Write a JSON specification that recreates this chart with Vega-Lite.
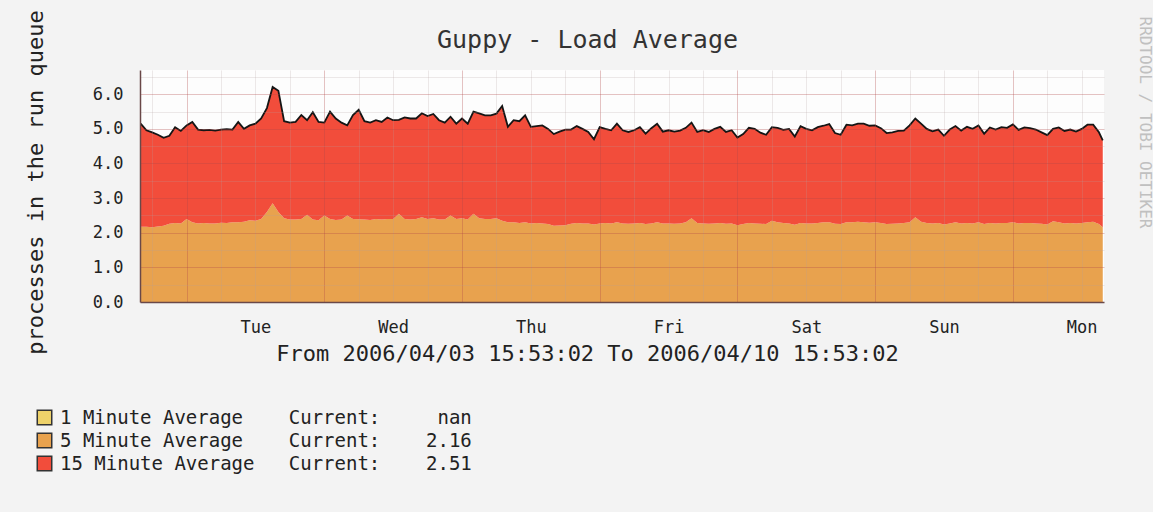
{
  "$schema": "https://vega.github.io/schema/vega-lite/v6.json",
  "width": 964,
  "height": 232,
  "autosize": {"type": "none"},
  "padding": {"left": 140, "top": 70, "right": 49, "bottom": 210},
  "background": "#f3f3f3",
  "config": {
    "view": {"fill": "#fdfdfd", "stroke": null},
    "font": "DejaVu Sans Mono",
    "axis": {"labelFont": "DejaVu Sans Mono", "titleFont": "DejaVu Sans Mono", "labelColor": "#222222", "titleColor": "#222222", "titleFontWeight": "normal"},
    "legend": {"labelFont": "DejaVu Sans Mono"}
  },
  "data": {
    "values": [
      {"t":"2006-04-03T16:00","l5":2.17,"l15":2.98},
      {"t":"2006-04-03T17:00","l5":2.17,"l15":2.79},
      {"t":"2006-04-03T18:00","l5":2.16,"l15":2.74},
      {"t":"2006-04-03T19:00","l5":2.18,"l15":2.65},
      {"t":"2006-04-03T20:00","l5":2.20,"l15":2.54},
      {"t":"2006-04-03T21:00","l5":2.26,"l15":2.54},
      {"t":"2006-04-03T22:00","l5":2.28,"l15":2.77},
      {"t":"2006-04-03T23:00","l5":2.27,"l15":2.67},
      {"t":"2006-04-04T00:00","l5":2.40,"l15":2.70},
      {"t":"2006-04-04T01:00","l5":2.30,"l15":2.90},
      {"t":"2006-04-04T02:00","l5":2.27,"l15":2.71},
      {"t":"2006-04-04T03:00","l5":2.28,"l15":2.68},
      {"t":"2006-04-04T04:00","l5":2.27,"l15":2.70},
      {"t":"2006-04-04T05:00","l5":2.27,"l15":2.68},
      {"t":"2006-04-04T06:00","l5":2.29,"l15":2.69},
      {"t":"2006-04-04T07:00","l5":2.28,"l15":2.71},
      {"t":"2006-04-04T08:00","l5":2.30,"l15":2.68},
      {"t":"2006-04-04T09:00","l5":2.30,"l15":2.90},
      {"t":"2006-04-04T10:00","l5":2.32,"l15":2.68},
      {"t":"2006-04-04T11:00","l5":2.36,"l15":2.74},
      {"t":"2006-04-04T12:00","l5":2.35,"l15":2.80},
      {"t":"2006-04-04T13:00","l5":2.40,"l15":2.90},
      {"t":"2006-04-04T14:00","l5":2.60,"l15":3.00},
      {"t":"2006-04-04T15:00","l5":2.85,"l15":3.36},
      {"t":"2006-04-04T16:00","l5":2.60,"l15":3.50},
      {"t":"2006-04-04T17:00","l5":2.42,"l15":2.80},
      {"t":"2006-04-04T18:00","l5":2.38,"l15":2.80},
      {"t":"2006-04-04T19:00","l5":2.38,"l15":2.82},
      {"t":"2006-04-04T20:00","l5":2.40,"l15":3.00},
      {"t":"2006-04-04T21:00","l5":2.52,"l15":2.73},
      {"t":"2006-04-04T22:00","l5":2.38,"l15":3.10},
      {"t":"2006-04-04T23:00","l5":2.36,"l15":2.84},
      {"t":"2006-04-05T00:00","l5":2.50,"l15":2.68},
      {"t":"2006-04-05T01:00","l5":2.40,"l15":3.10},
      {"t":"2006-04-05T02:00","l5":2.37,"l15":2.93},
      {"t":"2006-04-05T03:00","l5":2.38,"l15":2.80},
      {"t":"2006-04-05T04:00","l5":2.50,"l15":2.60},
      {"t":"2006-04-05T05:00","l5":2.40,"l15":3.00},
      {"t":"2006-04-05T06:00","l5":2.39,"l15":3.16},
      {"t":"2006-04-05T07:00","l5":2.38,"l15":2.84},
      {"t":"2006-04-05T08:00","l5":2.37,"l15":2.81},
      {"t":"2006-04-05T09:00","l5":2.40,"l15":2.85},
      {"t":"2006-04-05T10:00","l5":2.38,"l15":2.82},
      {"t":"2006-04-05T11:00","l5":2.40,"l15":2.93},
      {"t":"2006-04-05T12:00","l5":2.40,"l15":2.85},
      {"t":"2006-04-05T13:00","l5":2.55,"l15":2.71},
      {"t":"2006-04-05T14:00","l5":2.40,"l15":2.93},
      {"t":"2006-04-05T15:00","l5":2.38,"l15":2.92},
      {"t":"2006-04-05T16:00","l5":2.40,"l15":2.90},
      {"t":"2006-04-05T17:00","l5":2.45,"l15":3.00},
      {"t":"2006-04-05T18:00","l5":2.40,"l15":2.97},
      {"t":"2006-04-05T19:00","l5":2.42,"l15":3.01},
      {"t":"2006-04-05T20:00","l5":2.38,"l15":2.87},
      {"t":"2006-04-05T21:00","l5":2.38,"l15":2.80},
      {"t":"2006-04-05T22:00","l5":2.50,"l15":2.85},
      {"t":"2006-04-05T23:00","l5":2.40,"l15":2.75},
      {"t":"2006-04-06T00:00","l5":2.42,"l15":2.88},
      {"t":"2006-04-06T01:00","l5":2.38,"l15":2.77},
      {"t":"2006-04-06T02:00","l5":2.55,"l15":2.95},
      {"t":"2006-04-06T03:00","l5":2.42,"l15":3.03},
      {"t":"2006-04-06T04:00","l5":2.40,"l15":2.99},
      {"t":"2006-04-06T05:00","l5":2.40,"l15":2.99},
      {"t":"2006-04-06T06:00","l5":2.42,"l15":3.02},
      {"t":"2006-04-06T07:00","l5":2.35,"l15":3.31},
      {"t":"2006-04-06T08:00","l5":2.30,"l15":2.76},
      {"t":"2006-04-06T09:00","l5":2.30,"l15":2.95},
      {"t":"2006-04-06T10:00","l5":2.28,"l15":2.94},
      {"t":"2006-04-06T11:00","l5":2.30,"l15":3.09},
      {"t":"2006-04-06T12:00","l5":2.27,"l15":2.79},
      {"t":"2006-04-06T13:00","l5":2.28,"l15":2.80},
      {"t":"2006-04-06T14:00","l5":2.27,"l15":2.83},
      {"t":"2006-04-06T15:00","l5":2.25,"l15":2.75},
      {"t":"2006-04-06T16:00","l5":2.20,"l15":2.65},
      {"t":"2006-04-06T17:00","l5":2.21,"l15":2.71},
      {"t":"2006-04-06T18:00","l5":2.22,"l15":2.76},
      {"t":"2006-04-06T19:00","l5":2.26,"l15":2.72},
      {"t":"2006-04-06T20:00","l5":2.28,"l15":2.80},
      {"t":"2006-04-06T21:00","l5":2.27,"l15":2.73},
      {"t":"2006-04-06T22:00","l5":2.27,"l15":2.64},
      {"t":"2006-04-06T23:00","l5":2.24,"l15":2.46},
      {"t":"2006-04-07T00:00","l5":2.27,"l15":2.78},
      {"t":"2006-04-07T01:00","l5":2.28,"l15":2.72},
      {"t":"2006-04-07T02:00","l5":2.27,"l15":2.69},
      {"t":"2006-04-07T03:00","l5":2.30,"l15":2.85},
      {"t":"2006-04-07T04:00","l5":2.27,"l15":2.69},
      {"t":"2006-04-07T05:00","l5":2.26,"l15":2.65},
      {"t":"2006-04-07T06:00","l5":2.27,"l15":2.69},
      {"t":"2006-04-07T07:00","l5":2.28,"l15":2.77},
      {"t":"2006-04-07T08:00","l5":2.25,"l15":2.61},
      {"t":"2006-04-07T09:00","l5":2.27,"l15":2.75},
      {"t":"2006-04-07T10:00","l5":2.30,"l15":2.85},
      {"t":"2006-04-07T11:00","l5":2.27,"l15":2.65},
      {"t":"2006-04-07T12:00","l5":2.27,"l15":2.69},
      {"t":"2006-04-07T13:00","l5":2.26,"l15":2.66},
      {"t":"2006-04-07T14:00","l5":2.27,"l15":2.68},
      {"t":"2006-04-07T15:00","l5":2.30,"l15":2.73},
      {"t":"2006-04-07T16:00","l5":2.42,"l15":2.76},
      {"t":"2006-04-07T17:00","l5":2.28,"l15":2.63},
      {"t":"2006-04-07T18:00","l5":2.27,"l15":2.69},
      {"t":"2006-04-07T19:00","l5":2.26,"l15":2.65},
      {"t":"2006-04-07T20:00","l5":2.27,"l15":2.73},
      {"t":"2006-04-07T21:00","l5":2.28,"l15":2.78},
      {"t":"2006-04-07T22:00","l5":2.26,"l15":2.65},
      {"t":"2006-04-07T23:00","l5":2.27,"l15":2.69},
      {"t":"2006-04-08T00:00","l5":2.22,"l15":2.53},
      {"t":"2006-04-08T01:00","l5":2.25,"l15":2.60},
      {"t":"2006-04-08T02:00","l5":2.28,"l15":2.75},
      {"t":"2006-04-08T03:00","l5":2.27,"l15":2.73},
      {"t":"2006-04-08T04:00","l5":2.26,"l15":2.63},
      {"t":"2006-04-08T05:00","l5":2.25,"l15":2.58},
      {"t":"2006-04-08T06:00","l5":2.35,"l15":2.70},
      {"t":"2006-04-08T07:00","l5":2.30,"l15":2.73},
      {"t":"2006-04-08T08:00","l5":2.28,"l15":2.69},
      {"t":"2006-04-08T09:00","l5":2.27,"l15":2.73},
      {"t":"2006-04-08T10:00","l5":2.23,"l15":2.55},
      {"t":"2006-04-08T11:00","l5":2.28,"l15":2.80},
      {"t":"2006-04-08T12:00","l5":2.27,"l15":2.73},
      {"t":"2006-04-08T13:00","l5":2.27,"l15":2.69},
      {"t":"2006-04-08T14:00","l5":2.28,"l15":2.77},
      {"t":"2006-04-08T15:00","l5":2.30,"l15":2.79},
      {"t":"2006-04-08T16:00","l5":2.30,"l15":2.84},
      {"t":"2006-04-08T17:00","l5":2.26,"l15":2.62},
      {"t":"2006-04-08T18:00","l5":2.25,"l15":2.58},
      {"t":"2006-04-08T19:00","l5":2.30,"l15":2.82},
      {"t":"2006-04-08T20:00","l5":2.30,"l15":2.80},
      {"t":"2006-04-08T21:00","l5":2.32,"l15":2.83},
      {"t":"2006-04-08T22:00","l5":2.30,"l15":2.85},
      {"t":"2006-04-08T23:00","l5":2.29,"l15":2.80},
      {"t":"2006-04-09T00:00","l5":2.30,"l15":2.80},
      {"t":"2006-04-09T01:00","l5":2.28,"l15":2.74},
      {"t":"2006-04-09T02:00","l5":2.25,"l15":2.63},
      {"t":"2006-04-09T03:00","l5":2.26,"l15":2.64},
      {"t":"2006-04-09T04:00","l5":2.27,"l15":2.67},
      {"t":"2006-04-09T05:00","l5":2.28,"l15":2.67},
      {"t":"2006-04-09T06:00","l5":2.30,"l15":2.80},
      {"t":"2006-04-09T07:00","l5":2.45,"l15":2.85},
      {"t":"2006-04-09T08:00","l5":2.32,"l15":2.83},
      {"t":"2006-04-09T09:00","l5":2.28,"l15":2.72},
      {"t":"2006-04-09T10:00","l5":2.27,"l15":2.66},
      {"t":"2006-04-09T11:00","l5":2.28,"l15":2.70},
      {"t":"2006-04-09T12:00","l5":2.24,"l15":2.56},
      {"t":"2006-04-09T13:00","l5":2.27,"l15":2.71},
      {"t":"2006-04-09T14:00","l5":2.30,"l15":2.78},
      {"t":"2006-04-09T15:00","l5":2.27,"l15":2.68},
      {"t":"2006-04-09T16:00","l5":2.28,"l15":2.78},
      {"t":"2006-04-09T17:00","l5":2.27,"l15":2.73},
      {"t":"2006-04-09T18:00","l5":2.30,"l15":2.80},
      {"t":"2006-04-09T19:00","l5":2.25,"l15":2.61},
      {"t":"2006-04-09T20:00","l5":2.28,"l15":2.76},
      {"t":"2006-04-09T21:00","l5":2.27,"l15":2.71},
      {"t":"2006-04-09T22:00","l5":2.28,"l15":2.77},
      {"t":"2006-04-09T23:00","l5":2.28,"l15":2.75},
      {"t":"2006-04-10T00:00","l5":2.30,"l15":2.83},
      {"t":"2006-04-10T01:00","l5":2.27,"l15":2.70},
      {"t":"2006-04-10T02:00","l5":2.28,"l15":2.76},
      {"t":"2006-04-10T03:00","l5":2.28,"l15":2.74},
      {"t":"2006-04-10T04:00","l5":2.27,"l15":2.71},
      {"t":"2006-04-10T05:00","l5":2.26,"l15":2.64},
      {"t":"2006-04-10T06:00","l5":2.24,"l15":2.58},
      {"t":"2006-04-10T07:00","l5":2.33,"l15":2.67},
      {"t":"2006-04-10T08:00","l5":2.30,"l15":2.74},
      {"t":"2006-04-10T09:00","l5":2.27,"l15":2.67},
      {"t":"2006-04-10T10:00","l5":2.28,"l15":2.70},
      {"t":"2006-04-10T11:00","l5":2.27,"l15":2.65},
      {"t":"2006-04-10T12:00","l5":2.28,"l15":2.72},
      {"t":"2006-04-10T13:00","l5":2.30,"l15":2.82},
      {"t":"2006-04-10T14:00","l5":2.32,"l15":2.80},
      {"t":"2006-04-10T15:00","l5":2.25,"l15":2.65},
      {"t":"2006-04-10T15:40","l5":2.16,"l15":2.51}
    ]
  },
  "transform": [
    {"fold": ["l5", "l15"], "as": ["series", "value"]},
    {"stack": "value", "groupby": ["t"], "sort": [{"field": "series", "order": "descending"}], "as": ["y0", "y1"]}
  ],
  "layer": [
    {
      "transform": [{"filter": "datum.series == 'l5'"}],
      "mark": {"type": "area", "opacity": 1},
      "encoding": {
        "x": {
          "field": "t", "type": "temporal",
          "scale": {"domain": [{"year": 2006, "month": 4, "date": 3, "hours": 15, "minutes": 53, "seconds": 2}, {"year": 2006, "month": 4, "date": 10, "hours": 15, "minutes": 53, "seconds": 2}]},
          "axis": {
            "values": [
              {"year": 2006, "month": 4, "date": 4, "hours": 12},
              {"year": 2006, "month": 4, "date": 5, "hours": 12},
              {"year": 2006, "month": 4, "date": 6, "hours": 12},
              {"year": 2006, "month": 4, "date": 7, "hours": 12},
              {"year": 2006, "month": 4, "date": 8, "hours": 12},
              {"year": 2006, "month": 4, "date": 9, "hours": 12},
              {"year": 2006, "month": 4, "date": 10, "hours": 12}
            ],
            "format": "%a",
            "grid": false, "ticks": false,
            "domainColor": "#6a4848", "domainWidth": 1.5,
            "labelFontSize": 17, "labelBaseline": "alphabetic", "labelPadding": 30,
            "labelFlush": false,
            "title": "From 2006/04/03 15:53:02 To 2006/04/10 15:53:02",
            "titleFontSize": 22, "titleX": 447, "titleY": 58, "titleBaseline": "alphabetic",
            "zindex": 1
          }
        },
        "y": {
          "field": "y1", "type": "quantitative",
          "scale": {"domain": [0, 6.7], "nice": false},
          "axis": {
            "values": [0, 1, 2, 3, 4, 5, 6], "format": ".1f",
            "grid": false, "ticks": false,
            "domainColor": "#6a4848", "domainWidth": 1.5,
            "labelFontSize": 17, "labelPadding": 17,
            "title": "processes in the run queue",
            "titleFontSize": 22, "titleAngle": 270, "titleX": -98, "titleY": 112, "titleBaseline": "alphabetic",
            "zindex": 1
          }
        },
        "y2": {"field": "y0"},
        "color": {
          "field": "series", "type": "nominal",
          "scale": {"domain": ["l1", "l5", "l15"], "range": ["#EED26A", "#E8A24E", "#F24D3B"]},
          "legend": {
            "orient": "none", "legendX": -105, "legendY": 338, "direction": "vertical",
            "title": null, "symbolType": "square", "symbolSize": 210,
            "symbolStrokeColor": "#333333", "symbolStrokeWidth": 1.5, "symbolOpacity": 1,
            "labelFontSize": 19, "labelColor": "#222222", "labelOffset": 6, "labelLimit": 800, "rowPadding": 2,
            "labelExpr": "datum.label == 'l1' ? '1\u00a0Minute\u00a0Average\u00a0\u00a0\u00a0\u00a0Current:\u00a0\u00a0\u00a0\u00a0\u00a0nan' : datum.label == 'l5' ? '5\u00a0Minute\u00a0Average\u00a0\u00a0\u00a0\u00a0Current:\u00a0\u00a0\u00a0\u00a02.16' : '15\u00a0Minute\u00a0Average\u00a0\u00a0\u00a0Current:\u00a0\u00a0\u00a0\u00a02.51'"
          }
        }
      }
    },
    {
      "transform": [{"filter": "datum.series == 'l15'"}],
      "mark": {"type": "area", "opacity": 1},
      "encoding": {
        "x": {
          "field": "t", "type": "temporal",
          "axis": {
            "values": [
              {"year": 2006, "month": 4, "date": 3, "hours": 18},
              {"year": 2006, "month": 4, "date": 4, "hours": 6},
              {"year": 2006, "month": 4, "date": 4, "hours": 12},
              {"year": 2006, "month": 4, "date": 4, "hours": 18},
              {"year": 2006, "month": 4, "date": 5, "hours": 6},
              {"year": 2006, "month": 4, "date": 5, "hours": 12},
              {"year": 2006, "month": 4, "date": 5, "hours": 18},
              {"year": 2006, "month": 4, "date": 6, "hours": 6},
              {"year": 2006, "month": 4, "date": 6, "hours": 12},
              {"year": 2006, "month": 4, "date": 6, "hours": 18},
              {"year": 2006, "month": 4, "date": 7, "hours": 6},
              {"year": 2006, "month": 4, "date": 7, "hours": 12},
              {"year": 2006, "month": 4, "date": 7, "hours": 18},
              {"year": 2006, "month": 4, "date": 8, "hours": 6},
              {"year": 2006, "month": 4, "date": 8, "hours": 12},
              {"year": 2006, "month": 4, "date": 8, "hours": 18},
              {"year": 2006, "month": 4, "date": 9, "hours": 6},
              {"year": 2006, "month": 4, "date": 9, "hours": 12},
              {"year": 2006, "month": 4, "date": 9, "hours": 18},
              {"year": 2006, "month": 4, "date": 10, "hours": 6},
              {"year": 2006, "month": 4, "date": 10, "hours": 12}
            ],
            "labels": false, "ticks": false, "domain": false, "grid": true,
            "gridColor": "#b0a0a0", "gridOpacity": 0.22, "zindex": 1, "title": null
          }
        },
        "y": {
          "field": "y1", "type": "quantitative",
          "axis": {
            "values": [0.5, 1.5, 2.5, 3.5, 4.5, 5.5, 6.5],
            "labels": false, "ticks": false, "domain": false, "grid": true,
            "gridColor": "#b0a0a0", "gridOpacity": 0.22, "zindex": 1, "title": null
          }
        },
        "y2": {"field": "y0"},
        "color": {"field": "series", "type": "nominal"}
      }
    },
    {
      "transform": [{"filter": "datum.series == 'l15'"}],
      "mark": {"type": "line", "color": "#151515", "strokeWidth": 1.8},
      "encoding": {
        "x": {
          "field": "t", "type": "temporal",
          "axis": {
            "orient": "top",
            "values": [
              {"year": 2006, "month": 4, "date": 4},
              {"year": 2006, "month": 4, "date": 5},
              {"year": 2006, "month": 4, "date": 6},
              {"year": 2006, "month": 4, "date": 7},
              {"year": 2006, "month": 4, "date": 8},
              {"year": 2006, "month": 4, "date": 9},
              {"year": 2006, "month": 4, "date": 10}
            ],
            "labels": false, "ticks": false, "domain": false, "grid": true,
            "gridColor": "#b04848", "gridOpacity": 0.32, "zindex": 1,
            "title": "Guppy - Load Average",
            "titleFontSize": 25, "titleColor": "#333333", "titleX": 447, "titleY": -23, "titleBaseline": "alphabetic"
          }
        },
        "y": {
          "field": "y1", "type": "quantitative",
          "axis": {
            "orient": "right",
            "values": [1, 2, 3, 4, 5, 6],
            "labels": false, "ticks": false, "domain": false, "grid": true,
            "gridColor": "#b04848", "gridOpacity": 0.32, "zindex": 1,
            "title": "RRDTOOL / TOBI OETIKER",
            "titleFontSize": 16, "titleColor": "#c0c0c0", "titleAngle": 90, "titleX": 35, "titleY": 52, "titleBaseline": "alphabetic"
          }
        }
      }
    }
  ],
  "resolve": {"axis": {"x": "independent", "y": "independent"}}
}
